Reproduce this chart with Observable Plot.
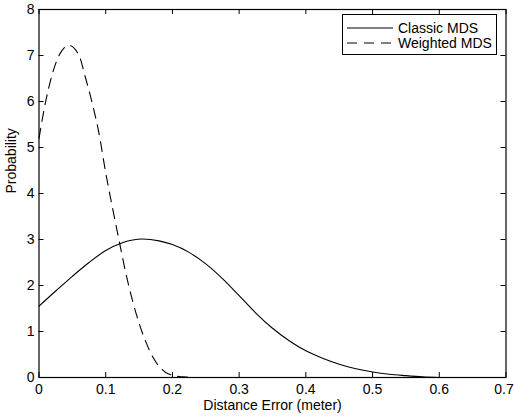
<!DOCTYPE html>
<html>
<head>
<meta charset="utf-8">
<script src="https://cdn.jsdelivr.net/npm/d3@7"></script>
<script src="https://cdn.jsdelivr.net/npm/@observablehq/plot@0.6"></script>
<style>
  html, body { margin: 0; padding: 0; background: #fff; }
  #wrap { position: relative; width: 514px; height: 419px; font-family: "Liberation Sans", Arial, Helvetica, sans-serif; }
  #legend { position: absolute; left: 342px; top: 14px; width: 155px; height: 41px; border: 1px solid #000; background: #fff; box-sizing: border-box; font-size: 14px; }
  .row { position: absolute; left: 0; height: 16px; display: flex; align-items: center; white-space: nowrap; }
  .row svg { margin-left: 4px; }
  .row span { margin-left: 5px; }
</style>
</head>
<body>
<div id="wrap"></div>
<script>
// Data
const classicX = [0, 0.025, 0.05, 0.075, 0.1, 0.125, 0.155, 0.18, 0.2, 0.225, 0.25, 0.275, 0.3, 0.325, 0.35, 0.375, 0.4, 0.425, 0.45, 0.475, 0.5, 0.525, 0.55, 0.575, 0.6];
const classicY = [1.55, 1.88, 2.2, 2.5, 2.76, 2.93, 3.01, 2.97, 2.89, 2.72, 2.47, 2.15, 1.78, 1.40, 1.07, 0.80, 0.58, 0.42, 0.29, 0.19, 0.12, 0.07, 0.04, 0.015, 0.0];
const weightedX = [0, 0.01, 0.02, 0.03, 0.045, 0.06, 0.07, 0.08, 0.09, 0.1, 0.11, 0.12, 0.13, 0.14, 0.15, 0.16, 0.17, 0.18, 0.19, 0.2, 0.21, 0.22, 0.23];
const weightedY = [5.2, 6.0, 6.6, 7.0, 7.22, 7.0, 6.5, 5.95, 5.3, 4.45, 3.7, 2.98, 2.28, 1.68, 1.18, 0.78, 0.46, 0.24, 0.11, 0.05, 0.02, 0.01, 0.0];
const xTicks = [0, 0.1, 0.2, 0.3, 0.4, 0.5, 0.6, 0.7];
const yTicks = [0, 1, 2, 3, 4, 5, 6, 7, 8];
const seriesNames = ["Classic MDS", "Weighted MDS"];
const xTitle = "Distance Error (meter)";
const yTitle = "Probability";

const classic = classicX.map((x, i) => ({x, y: classicY[i]}));
const weighted = weightedX.map((x, i) => ({x, y: weightedY[i]}));

const W = 514, H = 419;
const mL = 38.5, mR = 8.5, mT = 9, mB = 42;
const frameH = H - mT - mB, frameW = W - mL - mR;
const tl = 5;
const dash = "10,7";
const fmt = d => d === 0 ? "0" : String(d);

const chart = Plot.plot({
  width: W, height: H,
  marginLeft: mL, marginRight: mR, marginTop: mT, marginBottom: mB,
  style: {fontFamily: '"Liberation Sans", Arial, Helvetica, sans-serif', fontSize: "14px", background: "#fff", color: "#000", overflow: "visible"},
  x: {domain: [0, 0.7], ticks: xTicks, label: null},
  y: {domain: [0, 8], ticks: yTicks, label: null},
  marks: [
    Plot.axisX({ticks: xTicks.slice(0, -1), tickSize: 0, tickPadding: 7, tickFormat: fmt, fontSize: 14}),
    Plot.axisX({ticks: xTicks.slice(-1), tickSize: 0, tickPadding: 7, tickFormat: fmt, fontSize: 14, dx: -2}),
    Plot.axisY({ticks: yTicks, tickSize: 0, tickPadding: 4.5, fontSize: 14}),
    Plot.tickX(xTicks, {x: d => d, insetTop: frameH - tl, stroke: "#000"}),
    Plot.tickX(xTicks, {x: d => d, insetBottom: frameH - tl, stroke: "#000"}),
    Plot.tickY(yTicks, {y: d => d, insetRight: frameW - tl, stroke: "#000"}),
    Plot.tickY(yTicks, {y: d => d, insetLeft: frameW - tl, stroke: "#000"}),
    Plot.line(classic, {x: "x", y: "y", stroke: "#000", strokeWidth: 1.1, curve: "monotone-x"}),
    Plot.line(weighted, {x: "x", y: "y", stroke: "#000", strokeWidth: 1.1, strokeDasharray: dash, curve: "monotone-x"}),
    Plot.frame({stroke: "#000", strokeWidth: 1.2}),
    Plot.text([xTitle], {frameAnchor: "bottom", dy: 32, fontSize: 14, text: d => d}),
    Plot.text([yTitle], {frameAnchor: "left", dx: -27, rotate: -90, fontSize: 14, text: d => d})
  ]
});

const wrap = document.getElementById("wrap");
wrap.appendChild(chart);

const legend = document.createElement("div");
legend.id = "legend";
seriesNames.forEach((name, i) => {
  const row = document.createElement("div");
  row.className = "row";
  row.style.top = (5 + i * 15) + "px";
  const da = i === 0 ? "" : `stroke-dasharray="${dash}"`;
  row.innerHTML = `<svg width="46" height="4"><line x1="0" y1="2" x2="46" y2="2" stroke="#000" stroke-width="1" ${da}/></svg><span>${name}</span>`;
  legend.appendChild(row);
});
wrap.appendChild(legend);
</script>
</body>
</html>
